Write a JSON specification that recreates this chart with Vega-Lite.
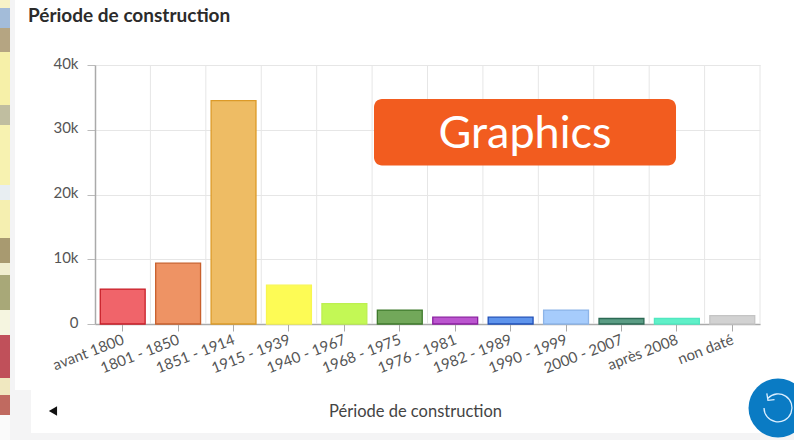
{
"$schema":"https://vega.github.io/schema/vega-lite/v6.json",
"width":665,"height":259,
"autosize":{"type":"none"},
"padding":{"left":95,"top":65,"right":34,"bottom":116},
"background":"#ffffff",
"config":{"view":{"stroke":null},"font":"Lato"},
"title":{"text":"Période de construction","anchor":"start","frame":"group","dx":-67,"offset":-26,"font":"Lato","fontSize":19,"fontWeight":700,"color":"#2b2b2b"},
"data":{"values":[
{"periode":"avant 1800","n":5400},
{"periode":"1801 - 1850","n":9400},
{"periode":"1851 - 1914","n":34500},
{"periode":"1915 - 1939","n":6000},
{"periode":"1940 - 1967","n":3150},
{"periode":"1968 - 1975","n":2150},
{"periode":"1976 - 1981","n":1050},
{"periode":"1982 - 1989","n":1050},
{"periode":"1990 - 1999","n":2150},
{"periode":"2000 - 2007","n":850},
{"periode":"après 2008","n":850},
{"periode":"non daté","n":1300}
]},
"resolve":{"scale":{"x":"independent"}},
"layer":[
{"layer":[
{"mark":{"type":"rule","color":"#e6e6e6","strokeWidth":1},
 "encoding":{"x":{"field":"periode","type":"nominal","sort":null,"bandPosition":1,"scale":{"padding":0}}}},
{"mark":{"type":"bar","width":{"band":0.81},"strokeWidth":1.3},
 "encoding":{
  "x":{"field":"periode","type":"nominal","sort":null,"scale":{"padding":0},
   "axis":{"title":"Période de construction","titleFont":"Lato","titleFontSize":16.5,"titleFontWeight":400,"titleColor":"#444444","titleX":320,"titleY":95,"titleBaseline":"bottom",
    "labelAngle":-21,"labelAlign":"right","labelBaseline":"top","labelFont":"Lato","labelFontSize":15,"labelColor":"#555555","labelPadding":1,"labelOffset":-2,"labelOverlap":false,
    "domainColor":"#aaaaaa","domainWidth":1.5,"tickColor":"#aaaaaa","tickSize":7,"grid":false}},
  "y":{"field":"n","type":"quantitative","scale":{"domain":[0,40000],"nice":false},
   "axis":{"title":null,"values":[0,10000,20000,30000,40000],"labelExpr":"datum.value == 0 ? '0' : (datum.value / 1000) + 'k'","labelOffset":-2,"labelFont":"Lato","labelFontSize":15,"labelColor":"#555555","labelPadding":9,"domainColor":"#aaaaaa","domainWidth":1.5,"tickColor":"#bbbbbb","tickSize":8,"gridColor":"#e6e6e6"}},
  "fill":{"field":"periode","type":"nominal","sort":null,"legend":null,"scale":{"range":["#f0646a","#ee9364","#eebc64","#fdfb55","#c3f855","#72a85a","#bb55cf","#5e94ec","#a6ccfc","#5a9c84","#60f0c8","#d2d2d2"]}},
  "stroke":{"field":"periode","type":"nominal","sort":null,"legend":null,"scale":{"range":["#c81e28","#c8602c","#dc9a28","#f8f650","#bdf050","#3f7a2c","#8a1fa0","#2050b8","#8cb4e8","#2c6a54","#50e8c0","#c4c4c4"]}}
 }}
]},
{"data":{"values":[
{"c":"#f7f3c8","a":50039,"b":48803},{"c":"#a3bcd9","a":48803,"b":45714},{"c":"#b5a582","a":45714,"b":42008},{"c":"#f6f0a8","a":42008,"b":33822},{"c":"#c0bea0","a":33822,"b":30733},{"c":"#f7f2b0","a":30733,"b":21467},{"c":"#e8eef2","a":21467,"b":19151},{"c":"#f5efb0","a":19151,"b":13282},{"c":"#a89a70","a":13282,"b":9421},{"c":"#f0eed0","a":9421,"b":7568},{"c":"#a8a878","a":7568,"b":2162},{"c":"#f5f5e0","a":2162,"b":-1699},{"c":"#c0505a","a":-1699,"b":-8340},{"c":"#f0e8c0","a":-8340,"b":-10965},{"c":"#c06a60","a":-10965,"b":-14054},{"c":"#fafafa","a":-14054,"b":-17915}
 ]},
 "mark":{"type":"rect"},
 "encoding":{"x":{"datum":-0.14286,"type":"quantitative","scale":{"domain":[0,1],"nice":false,"zero":false},"axis":null},"x2":{"datum":-0.12782},
  "y":{"field":"a","type":"quantitative"},"y2":{"field":"b"},
  "color":{"field":"c","type":"nominal","scale":null,"legend":null}}},
{"data":{"values":[{}]},"mark":{"type":"rect","fill":"#f4f4f5"},
 "encoding":{"x":{"datum":-0.12782,"type":"quantitative","scale":{"domain":[0,1],"nice":false,"zero":false},"axis":null},"x2":{"datum":-0.1203},"y":{"datum":50039,"type":"quantitative"},"y2":{"datum":-17915}}},
{"data":{"values":[{}]},"mark":{"type":"rect","fill":"#f4f4f5"},
 "encoding":{"x":{"datum":-0.1203,"type":"quantitative","scale":{"domain":[0,1],"nice":false,"zero":false},"axis":null},"x2":{"datum":-0.09624},"y":{"datum":-10193,"type":"quantitative"},"y2":{"datum":-17915}}},
{"data":{"values":[{}]},"mark":{"type":"rect","fill":"#f4f4f5"},
 "encoding":{"x":{"datum":-0.1203,"type":"quantitative","scale":{"domain":[0,1],"nice":false,"zero":false},"axis":null},"x2":{"datum":1.0511},"y":{"datum":-16834,"type":"quantitative"},"y2":{"datum":-17915}}},
{"data":{"values":[{}]},"mark":{"type":"rect","fill":"#f25c1f","cornerRadius":8},
 "encoding":{"x":{"datum":0.41955,"type":"quantitative","scale":{"domain":[0,1],"nice":false,"zero":false},"axis":null},"x2":{"datum":0.8737},"y":{"datum":34749,"type":"quantitative"},"y2":{"datum":24479}}},
{"data":{"values":[{"t":"Graphics"}]},"mark":{"type":"text","font":"Lato","fontSize":45,"color":"#ffffff","baseline":"middle","align":"center"},
 "encoding":{"x":{"datum":0.6466,"type":"quantitative","scale":{"domain":[0,1],"nice":false,"zero":false},"axis":null},"y":{"datum":29340,"type":"quantitative"},"text":{"field":"t"}}},
{"data":{"values":[{}]},"mark":{"type":"point","shape":"triangle-left","filled":true,"color":"#111111","size":90,"opacity":1},
 "encoding":{"x":{"datum":-0.0632,"type":"quantitative","scale":{"domain":[0,1],"nice":false,"zero":false},"axis":null},"y":{"datum":-13436,"type":"quantitative"}}},
{"data":{"values":[{}]},"mark":{"type":"point","shape":"circle","filled":true,"color":"#0a7bc4","size":3481,"opacity":1},
 "encoding":{"x":{"datum":1.0271,"type":"quantitative","scale":{"domain":[0,1],"nice":false,"zero":false},"axis":null},"y":{"datum":-12973,"type":"quantitative"}}},
{"data":{"values":[{}]},"mark":{"type":"point","shape":"M -0.72 -0.7 A 1 1 0 1 1 -1 0 M -0.8 -1.05 L -0.72 -0.55 L -0.25 -0.6","filled":false,"stroke":"#dcefff","strokeWidth":1.3,"size":784,"opacity":1},
 "encoding":{"x":{"datum":1.0271,"type":"quantitative","scale":{"domain":[0,1],"nice":false,"zero":false},"axis":null},"y":{"datum":-12973,"type":"quantitative"}}}
]
}
